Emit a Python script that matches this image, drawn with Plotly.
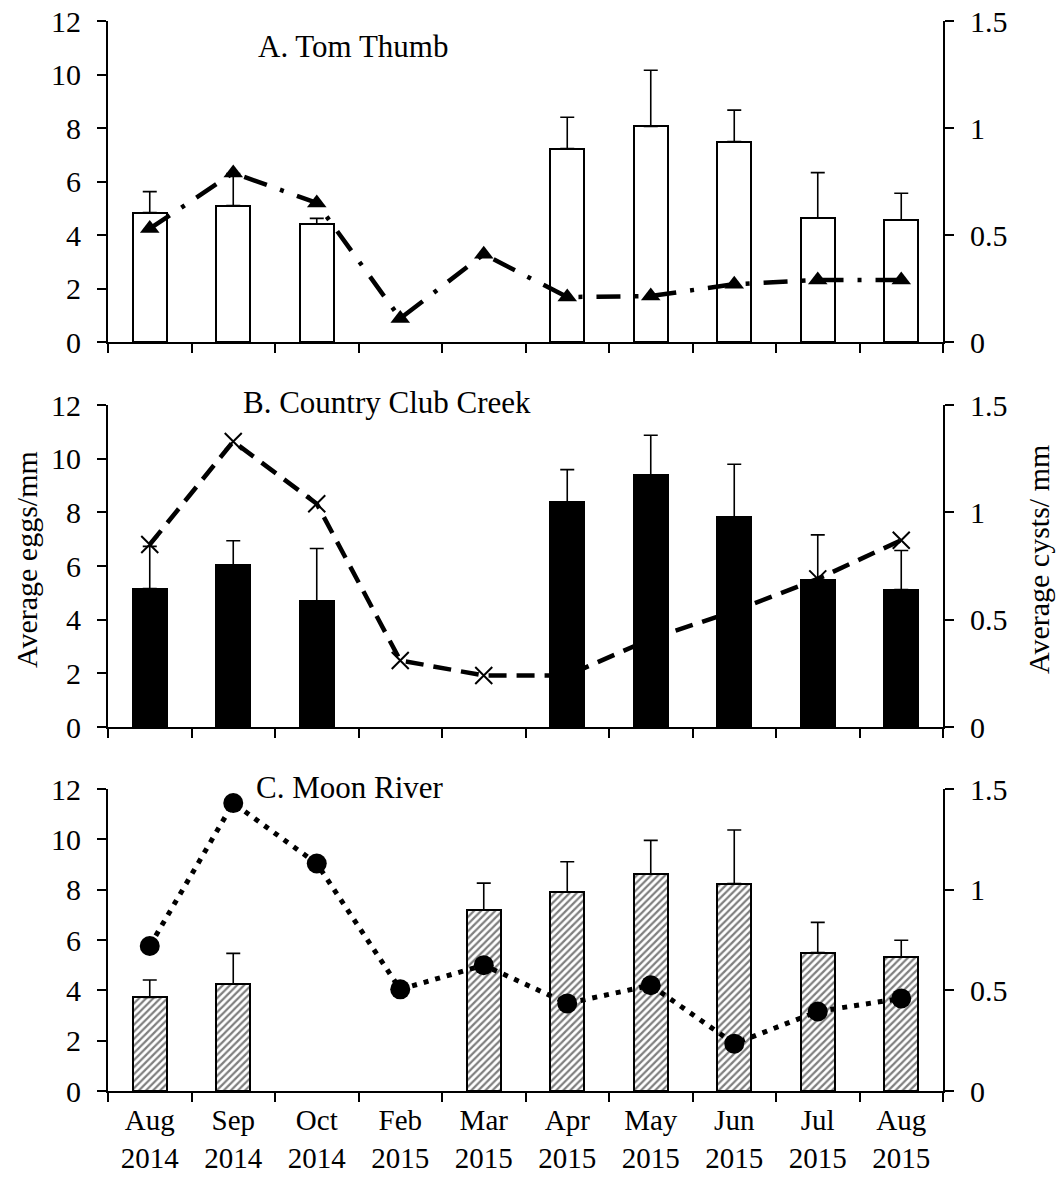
import plotly.graph_objects as go

# Sampling months (category axis shared by all three panels)
months = ["Aug<br>2014", "Sep<br>2014", "Oct<br>2014", "Feb<br>2015", "Mar<br>2015",
          "Apr<br>2015", "May<br>2015", "Jun<br>2015", "Jul<br>2015", "Aug<br>2015"]

# A. Tom Thumb
tom_eggs = [4.84, 5.10, 4.40, None, None, 7.23, 8.06, 7.49, 4.63, 4.55]
tom_eggs_sd = [0.78, 1.20, 0.22, None, None, 1.17, 2.10, 1.18, 1.70, 1.01]
tom_cysts = [0.53, 0.79, 0.65, 0.11, 0.41, 0.21, 0.215, 0.27, 0.29, 0.29]

# B. Country Club Creek
ccc_eggs = [5.16, 6.04, 4.70, None, None, 8.37, 9.38, 7.81, 5.47, 5.12]
ccc_eggs_sd = [1.57, 0.90, 1.95, None, None, 1.22, 1.49, 1.98, 1.69, 1.46]
ccc_cysts = [0.85, 1.33, 1.04, 0.31, 0.24, 0.24, 0.41, 0.54, 0.69, 0.87]

# C. Moon River
moon_eggs = [3.72, 4.24, None, None, 7.18, 7.92, 8.62, 8.24, 5.50, 5.32]
moon_eggs_sd = [0.69, 1.23, None, None, 1.08, 1.19, 1.34, 2.13, 1.20, 0.67]
moon_cysts = [0.72, 1.43, 1.13, 0.505, 0.625, 0.435, 0.525, 0.235, 0.395, 0.46]

panel_titles = ["A. Tom Thumb", "B. Country Club Creek", "C. Moon River"]
left_title = "Average eggs/mm"
right_title = "Average cysts/ mm"

W, H = 1059, 1179
FONT = "Liberation Serif, Times New Roman, serif"


def px_x(p):
    return p / W


def px_y(p):
    return 1 - p / H


x_dom = [px_x(108), px_x(943)]
# (top pixel, bottom pixel) of each panel's plotting area
panel_px = [(21, 342), (405, 727), (789, 1091)]

fig = go.Figure()


def err(sd):
    return dict(type="data", symmetric=False, array=sd,
                arrayminus=[0] * len(sd), color="black", thickness=1.6, width=7)


bar_common = dict(x=months, width=0.41, showlegend=False)

# Panel A bars + cysts
fig.add_trace(go.Bar(y=tom_eggs, error_y=err(tom_eggs_sd),
                     marker=dict(color="white", line=dict(color="black", width=2)),
                     xaxis="x", yaxis="y", **bar_common))
fig.add_trace(go.Scatter(x=months, y=tom_cysts, mode="lines+markers",
                         line=dict(color="black", width=4.5, dash="24px,14px,4px,14px"),
                         marker=dict(symbol="triangle-up", size=17, color="black"),
                         xaxis="x", yaxis="y2", showlegend=False))

# Panel B
fig.add_trace(go.Bar(y=ccc_eggs, error_y=err(ccc_eggs_sd),
                     marker=dict(color="black", line=dict(color="black", width=2)),
                     xaxis="x2", yaxis="y3", **bar_common))
fig.add_trace(go.Scatter(x=months, y=ccc_cysts, mode="lines+markers",
                         line=dict(color="black", width=4.5, dash="18px,10px"),
                         marker=dict(symbol="x-thin", size=17, color="black",
                                     line=dict(color="black", width=2)),
                         xaxis="x2", yaxis="y4", showlegend=False))

# Panel C
fig.add_trace(go.Bar(y=moon_eggs, error_y=err(moon_eggs_sd),
                     marker=dict(color="white", line=dict(color="black", width=2),
                                 pattern=dict(shape="/", fgcolor="black", bgcolor="white",
                                              size=5, solidity=0.45)),
                     xaxis="x3", yaxis="y5", **bar_common))
fig.add_trace(go.Scatter(x=months, y=moon_cysts, mode="lines+markers",
                         line=dict(color="black", width=5, dash="5px,7px"),
                         marker=dict(symbol="circle", size=20, color="black"),
                         xaxis="x3", yaxis="y6", showlegend=False))

axis_line = dict(showline=True, linecolor="black", linewidth=2, showgrid=False,
                 zeroline=False, ticks="outside", tickcolor="black", tickwidth=2,
                 ticklen=9, automargin=False)

layout = dict(
    width=W, height=H,
    margin=dict(l=0, r=0, t=0, b=0, pad=0),
    paper_bgcolor="white", plot_bgcolor="white",
    font=dict(family=FONT, size=30, color="black"),
    bargap=0,
    annotations=[],
)

for i, (top, bot) in enumerate(panel_px):
    xa = "xaxis" if i == 0 else f"xaxis{i + 1}"
    ya_l = "yaxis" if i == 0 else f"yaxis{2 * i + 1}"
    ya_r = f"yaxis{2 * i + 2}"
    yl_ref = "y" if i == 0 else f"y{2 * i + 1}"
    x_ref = "x" if i == 0 else f"x{i + 1}"
    dom = [px_y(bot), px_y(top)]
    layout[xa] = dict(axis_line, domain=x_dom, anchor=yl_ref, type="category",
                      categoryorder="array", categoryarray=months,
                      range=[-0.5, 9.5], tickson="boundaries",
                      showticklabels=(i == 2), tickfont=dict(size=29),
                      ticklabelstandoff=2)
    layout[ya_l] = dict(axis_line, domain=dom, anchor=x_ref, range=[0, 12],
                        tick0=0, dtick=2, ticklabelstandoff=10)
    layout[ya_r] = dict(axis_line, overlaying=yl_ref, side="right", anchor=x_ref,
                        range=[0, 1.5], tick0=0, dtick=0.5, ticklabelstandoff=10)

# Panel labels
title_pos = [(353, 46), (387, 402), (350, 787)]
for (cx, cy), txt in zip(title_pos, panel_titles):
    layout["annotations"].append(dict(text=txt, x=px_x(cx), y=px_y(cy), xref="paper",
                                      yref="paper", showarrow=False, xanchor="center",
                                      yanchor="middle", font=dict(size=31)))

# Axis titles
layout["annotations"].append(dict(text=left_title, x=px_x(26), y=px_y(560), xref="paper",
                                  yref="paper", showarrow=False, textangle=-90,
                                  xanchor="center", yanchor="middle", font=dict(size=30)))
layout["annotations"].append(dict(text=right_title, x=px_x(1038), y=px_y(560), xref="paper",
                                  yref="paper", showarrow=False, textangle=-90,
                                  xanchor="center", yanchor="middle", font=dict(size=30)))

fig.update_layout(**layout)
fig.write_html("out.html")
